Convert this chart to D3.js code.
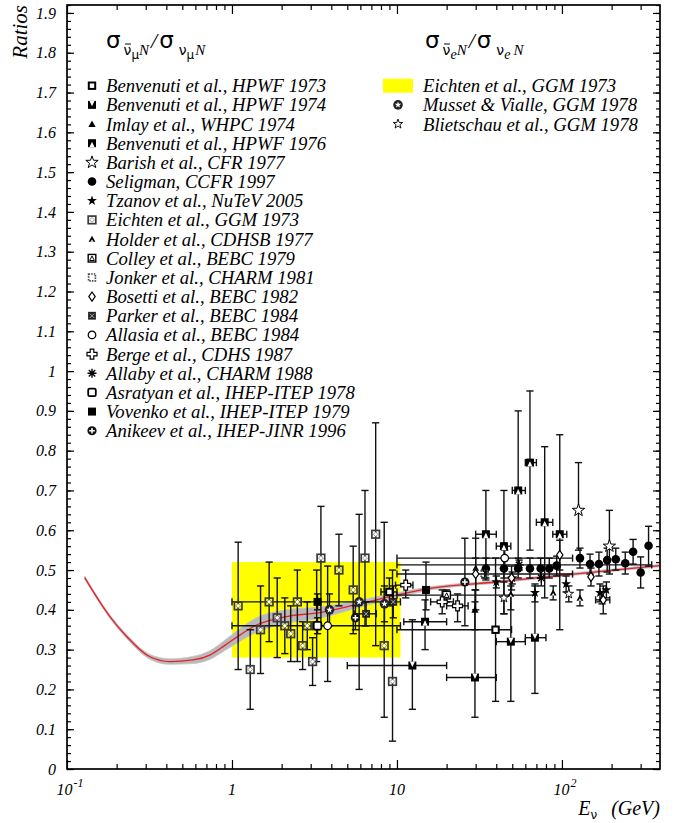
<!DOCTYPE html>
<html>
<head>
<meta charset="utf-8">
<script src="https://cdn.jsdelivr.net/npm/d3@7/dist/d3.min.js"></script>
<style>
  html, body { margin: 0; padding: 0; background: #fff; }
  svg { display: block; }
  .it { font-family: "Liberation Serif", "Times New Roman", serif; font-style: italic; }
  .sym { font-family: "DejaVu Sans", sans-serif; }
</style>
</head>
<body>
<svg id="chart" width="683" height="823"></svg>
<script>
// ---- Axis ticks ----
const yMajor = [0,0.1,0.2,0.3,0.4,0.5,0.6,0.7,0.8,0.9,1,1.1,1.2,1.3,1.4,1.5,1.6,1.7,1.8,1.9];
const yLabels = ["0","0.1","0.2","0.3","0.4","0.5","0.6","0.7","0.8","0.9","1","1.1","1.2","1.3","1.4","1.5","1.6","1.7","1.8","1.9"];
const xMajor = [0.1, 1, 10, 100];
const xLabelBase = ["10", "1", "10", "10"];
const xLabelExp = ["-1", "", "", "2"];

// ---- Theory curve: E (GeV), ratio, half-width of the uncertainty band ----
const curveE = [0.128, 0.182, 0.23, 0.318, 0.42, 0.58, 0.74, 0.9, 1.12, 1.35, 2.14, 3.4, 5.9, 9.5, 16.6, 40, 106, 390];
const curveR = [0.481, 0.383, 0.333, 0.282, 0.270, 0.274, 0.287, 0.31, 0.337, 0.358, 0.383, 0.393, 0.415, 0.435, 0.455, 0.47, 0.488, 0.511];
const curveW = [0.004, 0.004, 0.005, 0.006, 0.007, 0.009, 0.011, 0.013, 0.016, 0.018, 0.017, 0.014, 0.009, 0.006, 0.004, 0.003, 0.003, 0.003];

// ---- Measurements: [E, ratio, ratioLow, ratioHigh, Elow, Ehigh] ----
const benv73   = [[39.6,0.35,0.17,0.53,10,49.5],[9.0,0.445,0.41,0.48,8,10]];
const benv74   = [[12.4,0.26,0.15,0.375,5,20],[29.7,0.23,0.13,0.42,20,40],[49,0.32,0.17,0.46,40,60],[68.6,0.33,0.19,0.46,60,80]];
const imlay    = [[29.7,0.40,0.35,0.45]];
const benv76   = [[14.8,0.37,0.30,0.425,11,20],[34.6,0.59,0.475,0.70,30,40],[44.5,0.56,0.39,0.70,40,49],[54.3,0.70,0.51,0.90,50,60],[64,0.77,0.55,0.95,60,70],[78.6,0.62,0.43,0.81,70,88],[97,0.59,0.35,0.84,88,107]];
const barish   = [[126,0.65,0.55,0.77],[194,0.56,0.49,0.65]];
const seligman = [[34.6,0.504,0.48,0.53],[44.5,0.504,0.48,0.53],[54.3,0.504,0.48,0.53],[64,0.504,0.48,0.53],[74.3,0.504,0.48,0.53],[83.8,0.504,0.48,0.53],[92.9,0.511,0.485,0.535],[128.6,0.53,0.505,0.555],[148,0.515,0.49,0.54],[167.6,0.515,0.485,0.545],[188,0.525,0.495,0.555],[212,0.527,0.50,0.555],[242,0.517,0.49,0.545],[270,0.546,0.515,0.577],[300,0.494,0.455,0.533],[335,0.561,0.51,0.61]];
const tzanov   = [[40,0.47,0.455,0.485],[50,0.48,0.465,0.495],[68.6,0.443,0.42,0.465],[106,0.465,0.445,0.485],[170,0.443,0.42,0.465],[186,0.45,0.43,0.47]];
const eichtenMu= [[1.09,0.41,0.25,0.57],[1.29,0.25,0.15,0.35],[1.49,0.35,0.24,0.46],[1.68,0.42,0.32,0.52],[1.88,0.38,0.28,0.48],[2.09,0.36,0.29,0.43],[2.27,0.34,0.27,0.41],[2.49,0.42,0.27,0.50],[2.68,0.31,0.25,0.37],[2.86,0.36,0.30,0.42],[3.08,0.27,0.21,0.33],[3.26,0.36,0.27,0.50],[3.46,0.53,0.36,0.66],[4.45,0.50,0.41,0.59],[5.43,0.45,0.34,0.56],[6.4,0.53,0.36,0.70],[7.43,0.59,0.31,0.87],[8.37,0.31,0.13,0.62],[9.4,0.22,0.07,0.50]];
const holder   = [[30,0.505,0.40,0.58],[49,0.44,0.40,0.48],[88.5,0.443,0.425,0.46],[128.6,0.43,0.41,0.45],[175,0.43,0.415,0.445]];
const colley   = [[20,0.437,0.42,0.45,10,69]];
const jonker   = [[34,0.49,0.48,0.50,10,116]];
const bosetti  = [[30,0.49,0.45,0.53],[49.5,0.48,0.45,0.51],[97,0.538,0.50,0.575],[150,0.483,0.46,0.505],[178,0.425,0.39,0.46,160,195]];
const parker   = [[6.5,0.39,0.36,0.42,5.5,7.5],[9.5,0.42,0.38,0.46]];
const allasia  = [[3.8,0.36,0.22,0.51],[45,0.53,0.51,0.55,10,116]];
const berge    = [[11.3,0.462,0.43,0.50,9.8,12.5],[18.8,0.42,0.39,0.45,16,22],[23.3,0.41,0.37,0.44,20,27]];
const allaby   = [[55,0.513,0.50,0.525,10,350],[75,0.48,0.46,0.50]];
const asratyan = [[3.3,0.36,0.34,0.38,1.0,10.5]];
const vovenko  = [[3.3,0.42,0.40,0.44,1.0,10.5],[15,0.45,0.40,0.52]];
const anikeev  = [[25.8,0.47,0.36,0.58],[5.6,0.38,0.35,0.41]];
const eichtenE = [[1.0,10.5,0.28,0.52]];   // [Elow, Ehigh, ratioLow, ratioHigh]
const musset   = [[3.9,0.40,0.36,0.44],[5.9,0.42,0.20,0.64],[8.4,0.415,0.37,0.46]];
const bliet    = [[44.5,0.43,0.39,0.47],[110,0.44,0.42,0.46]];

const muSeries = [
  {name:"Benvenuti et al., HPWF 1973", mark:"benv73", data:benv73},
  {name:"Benvenuti et al., HPWF 1974", mark:"benv74", data:benv74},
  {name:"Imlay et al., WHPC 1974", mark:"imlay", data:imlay},
  {name:"Benvenuti et al., HPWF 1976", mark:"benv76", data:benv76},
  {name:"Barish et al., CFR 1977", mark:"barish", data:barish},
  {name:"Seligman, CCFR 1997", mark:"seligman", data:seligman},
  {name:"Tzanov et al., NuTeV 2005", mark:"tzanov", data:tzanov},
  {name:"Eichten et al., GGM 1973", mark:"eichten", data:eichtenMu},
  {name:"Holder et al., CDHSB 1977", mark:"holder", data:holder},
  {name:"Colley et al., BEBC 1979", mark:"colley", data:colley},
  {name:"Jonker et al., CHARM 1981", mark:"jonker", data:jonker},
  {name:"Bosetti et al., BEBC 1982", mark:"bosetti", data:bosetti},
  {name:"Parker et al., BEBC 1984", mark:"parker", data:parker},
  {name:"Allasia et al., BEBC 1984", mark:"allasia", data:allasia},
  {name:"Berge et al., CDHS 1987", mark:"berge", data:berge},
  {name:"Allaby et al., CHARM 1988", mark:"allaby", data:allaby},
  {name:"Asratyan et al., IHEP-ITEP 1978", mark:"asratyan", data:asratyan},
  {name:"Vovenko et al., IHEP-ITEP 1979", mark:"vovenko", data:vovenko},
  {name:"Anikeev et al., IHEP-JINR 1996", mark:"anikeev", data:anikeev}
];
const eSeries = [
  {name:"Musset & Vialle, GGM 1978", mark:"musset", data:musset},
  {name:"Blietschau et al., GGM 1978", mark:"bliet", data:bliet}
];

// ---- Layout ----
const X0 = 67, X1 = 660, Y0 = 769, Y1 = 5;
const x = d3.scaleLog().domain([0.1, 393]).range([X0, X1]);
const y = d3.scaleLinear().domain([0, 1.92]).range([Y0, Y1]);

const svg = d3.select("#chart");

// Eichten nu_e band
svg.append("g").selectAll("rect").data(eichtenE).join("rect")
  .attr("x", d => x(d[0])).attr("width", d => x(d[1]) - x(d[0]))
  .attr("y", d => y(d[3])).attr("height", d => y(d[2]) - y(d[3]))
  .attr("fill", "#ffff00");

// Theory curve with its uncertainty band
const curvePts = curveE.map((e, i) => ({e, r: curveR[i], w: curveW[i]}));
svg.append("path").datum(curvePts)
  .attr("d", d3.area().curve(d3.curveMonotoneX)
     .x(d => x(d.e)).y0(d => y(d.r - d.w)).y1(d => y(d.r + d.w)))
  .attr("fill", "#b9b9b9").attr("stroke", "#c4c4c4").attr("stroke-width", 0.8);
svg.append("path").datum(curvePts)
  .attr("d", d3.line().curve(d3.curveMonotoneX).x(d => x(d.e)).y(d => y(d.r)))
  .attr("fill", "none").attr("stroke", "#e8202a").attr("stroke-width", 1.3);

// ---- Marker glyphs ----
function starPath(R, r) {
  const p = [];
  for (let i = 0; i < 10; i++) {
    const a = -Math.PI / 2 + i * Math.PI / 5, rr = i % 2 ? r : R;
    p.push([rr * Math.cos(a), rr * Math.sin(a)]);
  }
  return "M" + p.map(q => q[0].toFixed(2) + "," + q[1].toFixed(2)).join("L") + "Z";
}
function sq(g, s, fill, stroke, sw, rx) {
  return g.append("rect").attr("x", -s).attr("y", -s).attr("width", 2*s).attr("height", 2*s)
    .attr("rx", rx || 0).attr("fill", fill).attr("stroke", stroke || "none").attr("stroke-width", sw || 0);
}
function drawMark(g, t) {
  switch (t) {
    case "benv73": sq(g, 3.2, "#fff", "#000", 2); break;
    case "benv74": sq(g, 4, "#000"); g.append("path").attr("d", "M-2.6,-4L2.6,-4L0,1.4Z").attr("fill", "#fff"); break;
    case "imlay": g.append("path").attr("d", "M0,-3.6L3.6,3L-3.6,3Z").attr("fill", "#000"); break;
    case "benv76": sq(g, 4, "#000"); g.append("path").attr("d", "M-2.6,4L2.6,4L0,-1.4Z").attr("fill", "#fff"); break;
    case "barish": g.append("path").attr("d", starPath(6.5, 2.6)).attr("fill", "#fff").attr("stroke", "#000").attr("stroke-width", 1); break;
    case "seligman": g.append("circle").attr("r", 4.3).attr("fill", "#000"); break;
    case "tzanov": g.append("path").attr("d", starPath(5.2, 2.1)).attr("fill", "#000"); break;
    case "eichten":
      sq(g, 3.8, "none", "#3a3a3a", 1.7);
      g.append("path").attr("d", "M0,-2.4L2.4,0L0,2.4L-2.4,0Z").attr("fill", "#fff").attr("stroke", "#555").attr("stroke-width", 0.6);
      break;
    case "holder":
      g.append("path").attr("d", "M0,-3.4L3.4,2.8L-3.4,2.8Z").attr("fill", "#000");
      g.append("path").attr("d", "M0,0.4L1.5,2.8L-1.5,2.8Z").attr("fill", "#fff");
      break;
    case "colley":
      sq(g, 3.8, "#fff", "#000", 1.4);
      g.append("path").attr("d", "M0,-2.3L2.3,2.3L-2.3,2.3Z").attr("fill", "none").attr("stroke", "#000").attr("stroke-width", 1);
      break;
    case "jonker": sq(g, 3.4, "none", "#444", 1.7).attr("stroke-dasharray", "1.5,1.1"); break;
    case "bosetti": g.append("path").attr("d", "M0,-4.6L3.2,0L0,4.6L-3.2,0Z").attr("fill", "#fff").attr("stroke", "#000").attr("stroke-width", 1.2); break;
    case "parker":
      sq(g, 3.9, "#222");
      g.append("path").attr("d", "M-2.2,-2.2L2.2,2.2M2.2,-2.2L-2.2,2.2").attr("stroke", "#aaa").attr("stroke-width", 1);
      break;
    case "allasia": g.append("circle").attr("r", 3.8).attr("fill", "#fff").attr("stroke", "#000").attr("stroke-width", 1.2); break;
    case "berge": g.append("path").attr("d", "M-1.8,-5H1.8V-1.8H5V1.8H1.8V5H-1.8V1.8H-5V-1.8H-1.8Z").attr("fill", "#fff").attr("stroke", "#000").attr("stroke-width", 1.2); break;
    case "allaby": g.append("path").attr("d", "M-4.5,0H4.5M0,-4.5V4.5M-3.2,-3.2L3.2,3.2M3.2,-3.2L-3.2,3.2").attr("stroke", "#000").attr("stroke-width", 1.4); break;
    case "asratyan": sq(g, 3.8, "#fff", "#000", 1.8, 1.5); break;
    case "vovenko": sq(g, 4, "#000"); break;
    case "anikeev":
      g.append("circle").attr("r", 4.6).attr("fill", "#111");
      g.append("path").attr("d", "M-2.8,0H2.8M0,-2.8V2.8").attr("stroke", "#fff").attr("stroke-width", 1.5);
      break;
    case "musset":
      g.append("circle").attr("r", 4.8).attr("fill", "#222");
      g.append("path").attr("d", starPath(3.4, 1.4)).attr("fill", "#fff");
      break;
    case "bliet": g.append("path").attr("d", starPath(5, 2)).attr("fill", "#fff").attr("stroke", "#000").attr("stroke-width", 0.9); break;
  }
}

// ---- Error bars and markers ----
const cap = 3.6;
const allSeries = muSeries.concat(eSeries);
const barG = svg.append("g").attr("stroke", "#111").attr("stroke-width", 1.4).attr("fill", "none");
allSeries.forEach(s => {
  s.data.forEach(d => {
    const px = x(d[0]), py = y(d[1]);
    if (d[2] != null) {
      const yl = y(d[2]), yh = y(d[3]);
      barG.append("line").attr("x1", px).attr("x2", px).attr("y1", yl).attr("y2", yh);
      barG.append("line").attr("x1", px - cap).attr("x2", px + cap).attr("y1", yl).attr("y2", yl);
      barG.append("line").attr("x1", px - cap).attr("x2", px + cap).attr("y1", yh).attr("y2", yh);
    }
    if (d[4] != null) {
      const xl = x(d[4]), xh = x(d[5]);
      barG.append("line").attr("x1", xl).attr("x2", xh).attr("y1", py).attr("y2", py);
      barG.append("line").attr("x1", xl).attr("x2", xl).attr("y1", py - cap).attr("y2", py + cap);
      barG.append("line").attr("x1", xh).attr("x2", xh).attr("y1", py - cap).attr("y2", py + cap);
    }
  });
});
const markG = svg.append("g");
allSeries.forEach(s => {
  s.data.forEach(d => {
    drawMark(markG.append("g").attr("transform", `translate(${x(d[0])},${y(d[1])})`), s.mark);
  });
});

// ---- Axes ----
const yMinor = d3.range(0, 1.921, 0.02).map(v => +v.toFixed(2));
const xMinor = [];
[0.1, 1, 10, 100].forEach(dec => { for (let k = 2; k <= 9; k++) if (dec * k <= 393) xMinor.push(dec * k); });

function axisG(gen, tx, ty) {
  const g = svg.append("g").attr("transform", `translate(${tx},${ty})`).call(gen);
  g.select(".domain").remove();
  g.selectAll("line").attr("stroke", "#000").attr("stroke-width", 1.2);
  g.selectAll("text").remove();
  return g;
}
axisG(d3.axisLeft(y).tickValues(yMajor).tickSize(-7).tickFormat(""), X0, 0);
axisG(d3.axisLeft(y).tickValues(yMinor).tickSize(-4).tickFormat(""), X0, 0);
axisG(d3.axisRight(y).tickValues(yMajor).tickSize(-7).tickFormat(""), X1, 0);
axisG(d3.axisRight(y).tickValues(yMinor).tickSize(-4).tickFormat(""), X1, 0);
axisG(d3.axisBottom(x).tickValues(xMajor).tickSize(-9).tickFormat(""), 0, Y0);
axisG(d3.axisBottom(x).tickValues(xMinor).tickSize(-5).tickFormat(""), 0, Y0);
axisG(d3.axisTop(x).tickValues(xMajor).tickSize(-9).tickFormat(""), 0, Y1);
axisG(d3.axisTop(x).tickValues(xMinor).tickSize(-5).tickFormat(""), 0, Y1);

svg.append("rect").attr("x", X0).attr("y", Y1).attr("width", X1 - X0).attr("height", Y0 - Y1)
  .attr("fill", "none").attr("stroke", "#000").attr("stroke-width", 1.7);

// Tick labels
svg.append("g").selectAll("text").data(yMajor).join("text")
  .attr("class", "it").attr("x", 56).attr("y", d => y(d)).attr("dy", "0.35em")
  .attr("text-anchor", "end").attr("font-size", 16).text((d, i) => yLabels[i]);

const xl = svg.append("g").selectAll("text").data(xMajor).join("text")
  .attr("class", "it").attr("x", (d, i) => x(d) + (xLabelExp[i] ? 3 : 0)).attr("y", 795)
  .attr("text-anchor", "middle").attr("font-size", 16);
xl.append("tspan").text((d, i) => xLabelBase[i]);
xl.append("tspan").attr("font-size", 12).attr("dy", -8).attr("dx", 1).text((d, i) => xLabelExp[i]);

// Axis titles
svg.append("text").attr("class", "it").attr("font-size", 21)
  .attr("transform", "translate(27,5) rotate(-90)").attr("text-anchor", "end").text("Ratios");

const xt = svg.append("text").attr("x", 660).attr("y", 815).attr("text-anchor", "end");
xt.append("tspan").attr("class", "it").attr("font-size", 20).text("E");
xt.append("tspan").attr("class", "sym").attr("font-size", 12).attr("dy", 4).text("ν");
xt.append("tspan").attr("class", "it").attr("font-size", 20).attr("dy", -4).attr("dx", 14).text("(GeV)");

// ---- Legend headers: sigma ratios ----
function ratioHeader(x0, lep, lepItalic) {
  const t = svg.append("text").attr("x", x0).attr("y", 48);
  const parts = [
    {s:"σ", cls:"sym", fs:23, dy:0, dx:0},
    {s:"ν", cls:"sym", fs:14, dy:7, dx:3},
    {s:lep, cls: lepItalic ? "it" : "sym", fs: lepItalic ? 14 : 12, dy:4, dx:0},
    {s:"N", cls:"it", fs:15, dy:-4, dx:0},
    {s:"/", cls:"it", fs:22, dy:-7, dx:2},
    {s:"σ", cls:"sym", fs:23, dy:0, dx:2},
    {s:"ν", cls:"sym", fs:14, dy:7, dx:5},
    {s:lep, cls: lepItalic ? "it" : "sym", fs: lepItalic ? 14 : 12, dy:4, dx:0},
    {s:"N", cls:"it", fs:15, dy:-4, dx:lepItalic ? 3 : 1}
  ];
  parts.forEach(p => t.append("tspan").attr("class", p.cls).attr("font-size", p.fs)
    .attr("dy", p.dy).attr("dx", p.dx).text(p.s));
  // bar over the first (anti)neutrino
  const node = t.node();
  const b = node.getExtentOfChar(1);
  svg.append("line").attr("x1", b.x + 1.5).attr("x2", b.x + b.width - 0.5)
    .attr("y1", b.y + 2).attr("y2", b.y + 2).attr("stroke", "#000").attr("stroke-width", 1);
}
ratioHeader(106, "μ", false);
ratioHeader(425, "e", true);

// ---- Legend entries ----
const legendFont = 18.7;
const rowY = i => 85.7 + 19.17 * i;
muSeries.forEach((s, i) => {
  drawMark(svg.append("g").attr("transform", `translate(92,${rowY(i)})`), s.mark);
  svg.append("text").attr("class", "it").attr("font-size", legendFont)
    .attr("x", 106).attr("y", rowY(i)).attr("dy", "0.35em").text(s.name);
});
svg.append("rect").attr("x", 383).attr("y", rowY(0) - 7).attr("width", 30).attr("height", 14).attr("fill", "#ffff00");
svg.append("text").attr("class", "it").attr("font-size", legendFont)
  .attr("x", 423).attr("y", rowY(0)).attr("dy", "0.35em").text("Eichten et al., GGM 1973");
eSeries.forEach((s, i) => {
  drawMark(svg.append("g").attr("transform", `translate(398,${rowY(i + 1)})`), s.mark);
  svg.append("text").attr("class", "it").attr("font-size", legendFont)
    .attr("x", 423).attr("y", rowY(i + 1)).attr("dy", "0.35em").text(s.name);
});
</script>
</body>
</html>
